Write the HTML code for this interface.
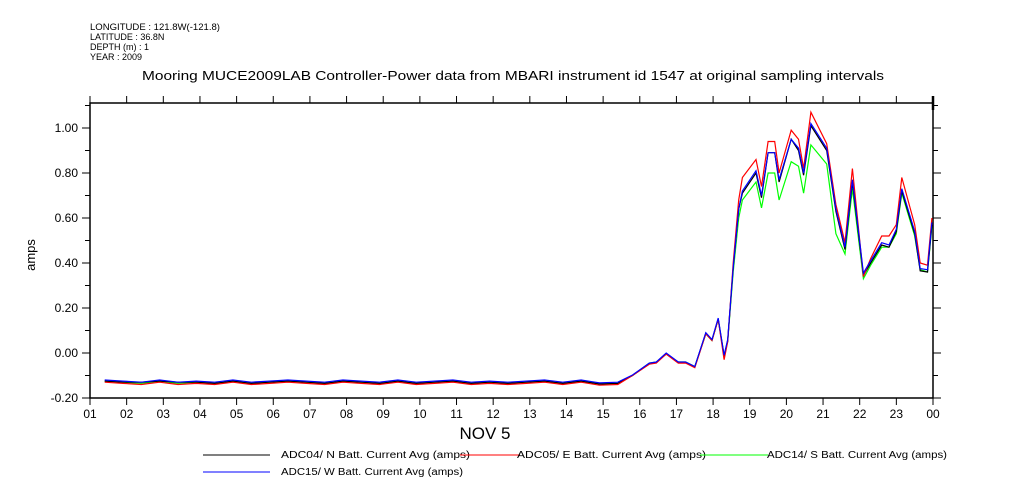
<!DOCTYPE html>
<html><head><meta charset="utf-8"><style>
html,body{margin:0;padding:0;background:#fff;}
svg{display:block;font-family:"Liberation Sans",sans-serif;}
</style></head><body>
<svg id="chart" width="1009" height="504">
<g font-size="9" fill="#000">
<text x="90" y="30" textLength="130" lengthAdjust="spacingAndGlyphs">LONGITUDE : 121.8W(-121.8)</text>
<text x="90" y="40">LATITUDE : 36.8N</text>
<text x="90" y="50">DEPTH (m) : 1</text>
<text x="90" y="60">YEAR : 2009</text>
</g>
<text x="142" y="80" font-size="13" textLength="742" lengthAdjust="spacingAndGlyphs">Mooring MUCE2009LAB Controller-Power data from MBARI instrument id 1547 at original sampling intervals</text>
<text x="35" y="255" font-size="13" text-anchor="middle" transform="rotate(-90 35 255)">amps</text>
<text x="485" y="439" font-size="17" text-anchor="middle">NOV  5</text>
<rect x="90" y="103" width="843" height="295" fill="none" stroke="#000" stroke-width="1.5"/>
<line x1="933" y1="96" x2="933" y2="110" stroke="#000" stroke-width="2.5"/>
<g id="axes"></g>
<g id="series"></g>
<g font-size="10">
<g><line x1="203" y1="455" x2="270" y2="455" stroke="#000"/><text x="281" y="458" textLength="189" lengthAdjust="spacingAndGlyphs">ADC04/ N Batt. Current Avg (amps)</text></g>
<g><line x1="460" y1="455" x2="520" y2="455" stroke="#f00"/><text x="517" y="458" textLength="189" lengthAdjust="spacingAndGlyphs">ADC05/ E Batt. Current Avg (amps)</text></g>
<g><line x1="700" y1="455" x2="768" y2="455" stroke="#0f0"/><text x="767" y="458" textLength="180" lengthAdjust="spacingAndGlyphs">ADC14/ S Batt. Current Avg (amps)</text></g>
<g><line x1="203" y1="472" x2="270" y2="472" stroke="#00f"/><text x="281" y="475" textLength="182" lengthAdjust="spacingAndGlyphs">ADC15/ W Batt. Current Avg (amps)</text></g>
</g>
</svg>
<script>
const times=[1.4,1.9,2.4,2.9,3.4,3.9,4.4,4.9,5.4,5.9,6.4,6.9,7.4,7.9,8.4,8.9,9.4,9.9,10.4,10.9,11.4,11.9,12.4,12.9,13.4,13.9,14.4,14.9,15.4,
15.8,16.26,16.45,16.72,17.05,17.25,17.5,17.8,17.97,18.14,18.3,18.4,18.55,18.7,18.8,19.17,19.32,19.5,19.68,19.8,20.13,20.33,20.47,20.67,21.1,21.35,21.6,21.8,22.1,22.3,22.6,22.8,23.0,23.15,23.5,23.65,23.85,23.97];
const blueVals=[-0.12,-0.125,-0.13,-0.12,-0.13,-0.125,-0.13,-0.12,-0.13,-0.125,-0.12,-0.125,-0.13,-0.12,-0.125,-0.13,-0.12,-0.13,-0.125,-0.12,-0.13,-0.125,-0.13,-0.125,-0.12,-0.13,-0.12,-0.133,-0.13,
-0.098,-0.045,-0.04,0.0,-0.04,-0.04,-0.06,0.09,0.06,0.155,-0.01,0.06,0.38,0.64,0.72,0.81,0.70,0.89,0.89,0.77,0.95,0.91,0.80,1.02,0.91,0.64,0.47,0.77,0.355,0.41,0.49,0.48,0.55,0.73,0.54,0.375,0.37,0.58];
const blackVals=[-0.125,-0.13,-0.13,-0.125,-0.13,-0.13,-0.135,-0.125,-0.135,-0.13,-0.125,-0.13,-0.135,-0.125,-0.13,-0.135,-0.125,-0.135,-0.13,-0.125,-0.135,-0.13,-0.135,-0.13,-0.125,-0.135,-0.125,-0.138,-0.135,
-0.10,-0.048,-0.043,-0.003,-0.042,-0.042,-0.062,0.088,0.058,0.15,-0.015,0.055,0.38,0.64,0.71,0.80,0.69,0.89,0.89,0.76,0.95,0.90,0.79,1.01,0.90,0.63,0.46,0.76,0.345,0.40,0.48,0.47,0.54,0.72,0.53,0.365,0.36,0.57];
const redVals=[-0.13,-0.135,-0.14,-0.13,-0.14,-0.135,-0.14,-0.13,-0.14,-0.135,-0.13,-0.135,-0.14,-0.13,-0.135,-0.14,-0.13,-0.14,-0.135,-0.13,-0.14,-0.135,-0.14,-0.135,-0.13,-0.14,-0.13,-0.143,-0.14,
-0.10,-0.05,-0.045,-0.005,-0.045,-0.045,-0.065,0.085,0.055,0.15,-0.03,0.05,0.40,0.68,0.78,0.86,0.74,0.94,0.94,0.80,0.99,0.95,0.82,1.07,0.93,0.66,0.49,0.82,0.34,0.42,0.52,0.52,0.57,0.78,0.57,0.40,0.39,0.60];
const greenVals=[-0.125,-0.13,-0.135,-0.125,-0.135,-0.13,-0.135,-0.125,-0.135,-0.13,-0.125,-0.13,-0.135,-0.125,-0.13,-0.135,-0.125,-0.135,-0.13,-0.125,-0.135,-0.13,-0.135,-0.13,-0.125,-0.135,-0.125,-0.138,-0.135,
-0.10,-0.045,-0.04,-0.005,-0.04,-0.04,-0.06,0.085,0.055,0.15,-0.01,0.05,0.36,0.60,0.68,0.76,0.645,0.80,0.80,0.68,0.85,0.83,0.71,0.925,0.84,0.53,0.44,0.73,0.33,0.39,0.47,0.47,0.53,0.71,0.52,0.37,0.36,0.56];
const yTickLabels=["-0.20","0.00","0.20","0.40","0.60","0.80","1.00"];
const yTickValues=[-0.2,0,0.2,0.4,0.6,0.8,1.0];
const xTickLabels=["01","02","03","04","05","06","07","08","09","10","11","12","13","14","15","16","17","18","19","20","21","22","23","00"];

const X0=90,X1=933,Y0=398,Y1=103,HMIN=1,HMAX=24,VMIN=-0.2,VMAX=1.1111;
const xs=h=>X0+(h-HMIN)/(HMAX-HMIN)*(X1-X0);
const ys=v=>Y0-(v-VMIN)/(VMAX-VMIN)*(Y0-Y1);
const NS="http://www.w3.org/2000/svg";
const axes=document.getElementById('axes');
function mk(tag,attrs,parent){const e=document.createElementNS(NS,tag);for(const k in attrs)e.setAttribute(k,attrs[k]);parent.appendChild(e);return e;}
xTickLabels.forEach((lab,i)=>{
  const x=xs(HMIN+i);
  const t1=mk('line',{x1:x,y1:Y1,x2:x,y2:Y1-7,stroke:'#000'},axes);
  
  
  const t2=mk('line',{x1:x,y1:Y0,x2:x,y2:Y0+7,stroke:'#000'},axes);
  
  
  const tx=mk('text',{x:x,y:Y0+20,'font-size':12,'text-anchor':'middle'},axes);
  tx.textContent=lab;
  
  
});
for(let k=-2;k<=11;k++){
  const v=k/10,y=ys(v);
  const major=(k%2===0);
  const a=mk('line',{x1:X0,y1:y,x2:X0-(major?8:5),y2:y,stroke:'#000'},axes);
  
  
  const b=mk('line',{x1:X1,y1:y,x2:X1+(major?8:5),y2:y,stroke:'#000'},axes);
  
  
}
yTickValues.forEach((v,i)=>{
  const tx=mk('text',{x:X0-12,y:ys(v)+4,'font-size':12,'text-anchor':'end'},axes);
  tx.textContent=yTickLabels[i];
  
  
});
const sg=document.getElementById('series');
const seriesList=[["series-adc14-s",greenVals,"#0f0"],["series-adc04-n",blackVals,"#000"],["series-adc05-e",redVals,"#f00"],["series-adc15-w",blueVals,"#00f"]];
seriesList.forEach(([name,vals,col])=>{
  const d=vals.map((v,i)=>(i?'L':'M')+xs(times[i]).toFixed(1)+' '+ys(v).toFixed(1)).join(' ');
  const p=mk('path',{d:d,fill:'none',stroke:col,'stroke-width':1.2},sg);
  
  
});
</script>
</body></html>
